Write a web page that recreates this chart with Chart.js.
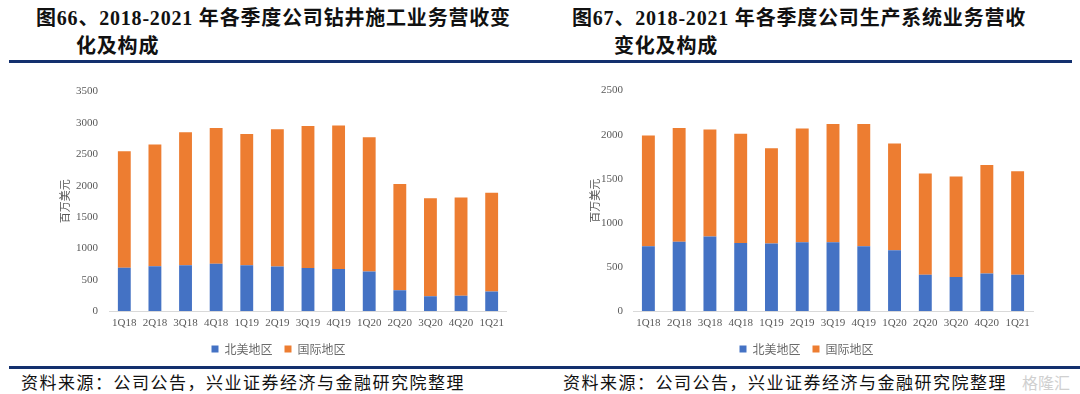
<!DOCTYPE html>
<html>
<head>
<meta charset="utf-8">
<script src="https://cdn.jsdelivr.net/npm/chart.js@4/dist/chart.umd.min.js"></script>
<style>
  body { margin: 0; width: 1080px; height: 394px; background: #fff; position: relative; overflow: hidden; }
  .title { position: absolute; font-family: "Liberation Serif", "Noto Sans CJK SC", serif; font-weight: bold; font-size: 20px; letter-spacing: 0.8px; color: #111; white-space: nowrap; line-height: 28px; }
  .rule { position: absolute; height: 3px; background: #13306e; }
  .source { position: absolute; font-family: "Noto Sans CJK SC", sans-serif; font-size: 17px; letter-spacing: 1.5px; color: #111; white-space: nowrap; top: 369px; }
  .box { position: absolute; }
  .mark { position: absolute; left: 1022px; top: 370px; font-family: "Noto Sans CJK SC", sans-serif; font-size: 16px; color: #d0d0d0; }
</style>
</head>
<body>
<div class="title" style="left:36px;top:4px">图66、2018-2021 年各季度公司钻井施工业务营收变</div>
<div class="title" style="left:76px;top:32px">化及构成</div>
<div class="title" style="left:572px;top:4px">图67、2018-2021 年各季度公司生产系统业务营收</div>
<div class="title" style="left:614px;top:32px">变化及构成</div>
<div class="rule" style="left:9px;top:60px;width:1063px"></div>

<div class="box" style="left:50px;top:74px;width:460px;height:293px"><canvas id="drill"></canvas></div>
<div class="box" style="left:580px;top:74px;width:460px;height:293px"><canvas id="prod"></canvas></div>

<div class="rule" style="left:9px;top:366px;width:1071px"></div>
<div class="source" style="left:21px">资料来源：公司公告，兴业证券经济与金融研究院整理</div>
<div class="source" style="left:563px">资料来源：公司公告，兴业证券经济与金融研究院整理</div>
<div class="mark">格隆汇</div>

<script>
const quarters = ["1Q18", "2Q18", "3Q18", "4Q18", "1Q19", "2Q19", "3Q19", "4Q19", "1Q20", "2Q20", "3Q20", "4Q20", "1Q21"];

// 钻井施工 (百万美元)
const drillNorthAmerica = [690, 715, 730, 755, 730, 710, 685, 670, 630, 330, 235, 245, 310];
const drillInternational = [1860, 1940, 2120, 2165, 2095, 2190, 2265, 2290, 2140, 1695, 1565, 1565, 1575];

// 生产系统 (百万美元)
const prodNorthAmerica = [735, 785, 845, 770, 765, 780, 780, 735, 690, 410, 385, 425, 410];
const prodInternational = [1255, 1290, 1215, 1240, 1080, 1290, 1340, 1385, 1210, 1150, 1140, 1230, 1175];

const seriesNames = ["北美地区", "国际地区"];
const blue = "#4472C4";
const orange = "#ED7D31";

let makeChart = (id, na, intl, yMax, axisWidth, tickPad, padRight) => {
  const ctx = document.getElementById(id);
  const dataset = {
    labels: quarters,
    datasets: [
      { label: seriesNames[0], data: na, backgroundColor: blue },
      { label: seriesNames[1], data: intl, backgroundColor: orange },
    ],
  };
  const config = {
    type: "bar",
    data: dataset,
    options: {
      responsive: true,
      maintainAspectRatio: false,
      animation: false,
      layout: { padding: { left: 0, right: padRight, top: 3, bottom: 2 } },
      datasets: { bar: { categoryPercentage: 1, barPercentage: 0.42 } },
      plugins: {
        tooltip: { enabled: false },
        legend: {
          position: "bottom",
          labels: {
            boxWidth: 7,
            boxHeight: 7,
            padding: 12,
            color: "#6b6b6b",
            font: { family: "Noto Sans CJK SC", size: 12 },
          },
        },
      },
      scales: {
        x: {
          stacked: true,
          grid: { display: false, drawTicks: false },
          border: { display: true, color: "#d9d9d9", width: 1 },
          ticks: { color: "#595959", padding: 6, font: { family: "Liberation Serif", size: 11 } },
          afterFit: (scale) => { scale.height = 20; },
        },
        y: {
          stacked: true,
          min: 0,
          max: yMax,
          grid: { display: false, drawTicks: false },
          border: { display: false },
          ticks: {
            stepSize: 500,
            color: "#595959",
            padding: tickPad,
            font: { family: "Liberation Serif", size: 11 },
            callback: (v) => String(v),
          },
          title: {
            display: true,
            text: "百万美元",
            color: "#595959",
            padding: { top: 8, bottom: 0 },
            font: { family: "Noto Sans CJK SC", size: 11 },
          },
          afterFit: (scale) => { scale.width = axisWidth; },
        },
      },
    },
  };
  return new Chart(ctx, config);
};

makeChart("drill", drillNorthAmerica, drillInternational, 3500, 59, 11, 3);
makeChart("prod", prodNorthAmerica, prodInternational, 2500, 53, 10, 7);
</script>
</body>
</html>
